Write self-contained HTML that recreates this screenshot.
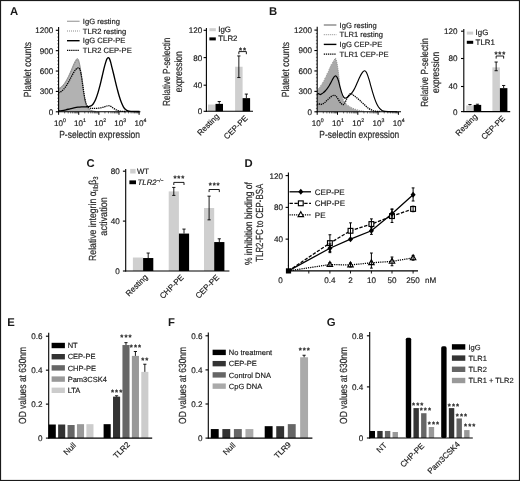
<!DOCTYPE html>
<html lang="en">
<head>
<meta charset="utf-8">
<title>Figure</title>
<style>
html,body{margin:0;padding:0;background:#fff}
svg{display:block}
text{font-family:"Liberation Sans", Arial, Helvetica, sans-serif;fill:#1a1a1a;stroke:#1a1a1a;stroke-width:.17px;text-rendering:geometricPrecision}
.t{stroke:#2a2a2a;stroke-width:.2px;fill:#2a2a2a}
.b{stroke:none}
</style>
</head>
<body>
<svg width="520" height="481" viewBox="0 0 520 481" style="filter:grayscale(1)">
<rect width="520" height="481" fill="#fff"/>
<text x="10" y="15.3" font-size="11.3" font-weight="bold" fill="#000" class="b">A</text>
<path d="M58.5 111.5L58.5 88.6L60.5 87.6L62.5 85.8L64.5 83.4L66.5 80.2L68.5 76.4L70.5 72L72.5 67.2L74 63.6L75.5 60.6L76.6 59L77.5 58.6L78.4 59.6L79.3 62.5L80.2 67.2L81.2 74L82.2 82L83.2 90L84.3 97.4L85.4 102.8L86.6 106.4L88 108.6L90 110L93 111L96 111.5Z" fill="#b2b2b2"/>
<path d="M58.5 88.6L60.5 87.6L62.5 85.8L64.5 83.4L66.5 80.2L68.5 76.4L70.5 72L72.5 67.2L74 63.6L75.5 60.6L76.6 59L77.5 58.6L78.4 59.6L79.3 62.5L80.2 67.2L81.2 74L82.2 82L83.2 90L84.3 97.4L85.4 102.8L86.6 106.4L88 108.6L90 110L93 111L96 111.5" fill="none" stroke="#9c9c9c" stroke-width="1"/>
<path d="M58.5 89.6L62.5 86.8L66.5 81.2L70.5 73L74 64.8L76.6 60.2L77.8 60L79.3 63.5L81.2 75L83.2 91L85.4 103.4L88 109L93 111.2" fill="none" stroke="#8a8a8a" stroke-width="1" stroke-dasharray="1 1"/>
<path d="M58.5 92.8C58.92 92.6 60.17 92.17 61 91.6C61.83 91.03 62.67 90.3 63.5 89.4C64.33 88.5 65.17 87.4 66 86.2C66.83 85 67.67 83.67 68.5 82.2C69.33 80.73 70.17 78.97 71 77.4C71.83 75.83 72.75 74.07 73.5 72.8C74.25 71.53 74.87 70.57 75.5 69.8C76.13 69.03 76.75 68.5 77.3 68.2C77.85 67.9 78.35 67.77 78.8 68C79.25 68.23 79.63 68.67 80 69.6C80.37 70.53 80.67 71.93 81 73.6C81.33 75.27 81.67 77.43 82 79.6C82.33 81.77 82.67 84.27 83 86.6C83.33 88.93 83.67 91.47 84 93.6C84.33 95.73 84.63 97.7 85 99.4C85.37 101.1 85.77 102.6 86.2 103.8C86.63 105 87.05 105.9 87.6 106.6C88.15 107.3 88.6 107.7 89.5 108C90.4 108.3 91.75 108.35 93 108.4C94.25 108.45 95.67 108.4 97 108.3C98.33 108.2 99.75 108.05 101 107.8C102.25 107.55 103.42 107.13 104.5 106.8C105.58 106.47 106.67 105.95 107.5 105.8C108.33 105.65 108.83 105.73 109.5 105.9C110.17 106.07 110.75 106.35 111.5 106.8C112.25 107.25 113.17 108.07 114 108.6C114.83 109.13 115.67 109.62 116.5 110C117.33 110.38 118.08 110.67 119 110.9C119.92 111.13 120.83 111.3 122 111.4C123.17 111.5 125.33 111.48 126 111.5" fill="none" stroke="#000" stroke-width="1.3" stroke-dasharray="1.3 0.8"/>
<path d="M58.5 111C59.08 110.93 60.75 110.8 62 110.6C63.25 110.4 64.67 110.1 66 109.8C67.33 109.5 68.67 109.12 70 108.8C71.33 108.48 72.67 108.17 74 107.9C75.33 107.63 76.67 107.37 78 107.2C79.33 107.03 80.67 106.97 82 106.9C83.33 106.83 84.75 106.88 86 106.8C87.25 106.72 88.5 106.67 89.5 106.4C90.5 106.13 91.25 105.83 92 105.2C92.75 104.57 93.33 103.73 94 102.6C94.67 101.47 95.33 100.07 96 98.4C96.67 96.73 97.33 94.77 98 92.6C98.67 90.43 99.33 88 100 85.4C100.67 82.8 101.33 79.83 102 77C102.67 74.17 103.4 70.8 104 68.4C104.6 66 105.1 64.2 105.6 62.6C106.1 61 106.57 59.63 107 58.8C107.43 57.97 107.8 57.63 108.2 57.6C108.6 57.57 109 57.87 109.4 58.6C109.8 59.33 110.17 60.5 110.6 62C111.03 63.5 111.5 65.6 112 67.6C112.5 69.6 113.03 71.67 113.6 74C114.17 76.33 114.77 79 115.4 81.6C116.03 84.2 116.73 87.07 117.4 89.6C118.07 92.13 118.73 94.63 119.4 96.8C120.07 98.97 120.73 100.93 121.4 102.6C122.07 104.27 122.7 105.63 123.4 106.8C124.1 107.97 124.83 108.9 125.6 109.6C126.37 110.3 127.1 110.7 128 111C128.9 111.3 129.08 111.32 131 111.4C132.92 111.48 138.08 111.48 139.5 111.5" fill="none" stroke="#000" stroke-width="1.35" stroke-linejoin="round"/>
<line x1="58.6" y1="26.9" x2="58.6" y2="112.3" stroke="#000" stroke-width="1.1"/>
<line x1="57.3" y1="33.7" x2="58.6" y2="33.7" stroke="#000" stroke-width="0.55"/>
<line x1="57.3" y1="37.09" x2="58.6" y2="37.09" stroke="#000" stroke-width="0.55"/>
<line x1="57.3" y1="40.49" x2="58.6" y2="40.49" stroke="#000" stroke-width="0.55"/>
<line x1="57.3" y1="43.88" x2="58.6" y2="43.88" stroke="#000" stroke-width="0.55"/>
<line x1="57.3" y1="47.28" x2="58.6" y2="47.28" stroke="#000" stroke-width="0.55"/>
<line x1="57.3" y1="54.07" x2="58.6" y2="54.07" stroke="#000" stroke-width="0.55"/>
<line x1="57.3" y1="57.47" x2="58.6" y2="57.47" stroke="#000" stroke-width="0.55"/>
<line x1="57.3" y1="60.86" x2="58.6" y2="60.86" stroke="#000" stroke-width="0.55"/>
<line x1="57.3" y1="64.26" x2="58.6" y2="64.26" stroke="#000" stroke-width="0.55"/>
<line x1="57.3" y1="67.65" x2="58.6" y2="67.65" stroke="#000" stroke-width="0.55"/>
<line x1="57.3" y1="74.45" x2="58.6" y2="74.45" stroke="#000" stroke-width="0.55"/>
<line x1="57.3" y1="77.84" x2="58.6" y2="77.84" stroke="#000" stroke-width="0.55"/>
<line x1="57.3" y1="81.24" x2="58.6" y2="81.24" stroke="#000" stroke-width="0.55"/>
<line x1="57.3" y1="84.63" x2="58.6" y2="84.63" stroke="#000" stroke-width="0.55"/>
<line x1="57.3" y1="88.03" x2="58.6" y2="88.03" stroke="#000" stroke-width="0.55"/>
<line x1="57.3" y1="94.82" x2="58.6" y2="94.82" stroke="#000" stroke-width="0.55"/>
<line x1="57.3" y1="98.22" x2="58.6" y2="98.22" stroke="#000" stroke-width="0.55"/>
<line x1="57.3" y1="101.61" x2="58.6" y2="101.61" stroke="#000" stroke-width="0.55"/>
<line x1="57.3" y1="105.01" x2="58.6" y2="105.01" stroke="#000" stroke-width="0.55"/>
<line x1="57.3" y1="108.4" x2="58.6" y2="108.4" stroke="#000" stroke-width="0.55"/>
<line x1="55.8" y1="30.3" x2="58.6" y2="30.3" stroke="#000" stroke-width="1.1"/>
<text x="53.3" y="33.22" font-size="8.1" text-anchor="end">1200</text>
<line x1="55.8" y1="50.67" x2="58.6" y2="50.67" stroke="#000" stroke-width="1.1"/>
<text x="53.3" y="53.59" font-size="8.1" text-anchor="end">900</text>
<line x1="55.8" y1="71.05" x2="58.6" y2="71.05" stroke="#000" stroke-width="1.1"/>
<text x="53.3" y="73.97" font-size="8.1" text-anchor="end">600</text>
<line x1="55.8" y1="91.42" x2="58.6" y2="91.42" stroke="#000" stroke-width="1.1"/>
<text x="53.3" y="94.34" font-size="8.1" text-anchor="end">300</text>
<line x1="55.8" y1="111.8" x2="58.6" y2="111.8" stroke="#000" stroke-width="1.1"/>
<text x="53.3" y="114.72" font-size="8.1" text-anchor="end">0</text>
<line x1="58.1" y1="111.8" x2="140.4" y2="111.8" stroke="#000" stroke-width="1.1"/>
<line x1="58.6" y1="111.8" x2="58.6" y2="114.8" stroke="#000" stroke-width="1"/>
<line x1="64.66" y1="111.8" x2="64.66" y2="113.4" stroke="#000" stroke-width="0.6"/>
<line x1="68.2" y1="111.8" x2="68.2" y2="113.4" stroke="#000" stroke-width="0.6"/>
<line x1="70.72" y1="111.8" x2="70.72" y2="113.4" stroke="#000" stroke-width="0.6"/>
<line x1="72.67" y1="111.8" x2="72.67" y2="113.4" stroke="#000" stroke-width="0.6"/>
<line x1="74.26" y1="111.8" x2="74.26" y2="113.4" stroke="#000" stroke-width="0.6"/>
<line x1="75.61" y1="111.8" x2="75.61" y2="113.4" stroke="#000" stroke-width="0.6"/>
<line x1="76.77" y1="111.8" x2="76.77" y2="113.4" stroke="#000" stroke-width="0.6"/>
<line x1="77.8" y1="111.8" x2="77.8" y2="113.4" stroke="#000" stroke-width="0.6"/>
<text x="59.9" y="125.8" font-size="8.1" text-anchor="middle">10<tspan dy="-3.4" font-size="5.2">0</tspan></text>
<line x1="78.72" y1="111.8" x2="78.72" y2="114.8" stroke="#000" stroke-width="1"/>
<line x1="84.78" y1="111.8" x2="84.78" y2="113.4" stroke="#000" stroke-width="0.6"/>
<line x1="88.33" y1="111.8" x2="88.33" y2="113.4" stroke="#000" stroke-width="0.6"/>
<line x1="90.84" y1="111.8" x2="90.84" y2="113.4" stroke="#000" stroke-width="0.6"/>
<line x1="92.79" y1="111.8" x2="92.79" y2="113.4" stroke="#000" stroke-width="0.6"/>
<line x1="94.39" y1="111.8" x2="94.39" y2="113.4" stroke="#000" stroke-width="0.6"/>
<line x1="95.73" y1="111.8" x2="95.73" y2="113.4" stroke="#000" stroke-width="0.6"/>
<line x1="96.9" y1="111.8" x2="96.9" y2="113.4" stroke="#000" stroke-width="0.6"/>
<line x1="97.93" y1="111.8" x2="97.93" y2="113.4" stroke="#000" stroke-width="0.6"/>
<text x="80.02" y="125.8" font-size="8.1" text-anchor="middle">10<tspan dy="-3.4" font-size="5.2">1</tspan></text>
<line x1="98.85" y1="111.8" x2="98.85" y2="114.8" stroke="#000" stroke-width="1"/>
<line x1="104.91" y1="111.8" x2="104.91" y2="113.4" stroke="#000" stroke-width="0.6"/>
<line x1="108.45" y1="111.8" x2="108.45" y2="113.4" stroke="#000" stroke-width="0.6"/>
<line x1="110.97" y1="111.8" x2="110.97" y2="113.4" stroke="#000" stroke-width="0.6"/>
<line x1="112.92" y1="111.8" x2="112.92" y2="113.4" stroke="#000" stroke-width="0.6"/>
<line x1="114.51" y1="111.8" x2="114.51" y2="113.4" stroke="#000" stroke-width="0.6"/>
<line x1="115.86" y1="111.8" x2="115.86" y2="113.4" stroke="#000" stroke-width="0.6"/>
<line x1="117.02" y1="111.8" x2="117.02" y2="113.4" stroke="#000" stroke-width="0.6"/>
<line x1="118.05" y1="111.8" x2="118.05" y2="113.4" stroke="#000" stroke-width="0.6"/>
<text x="100.15" y="125.8" font-size="8.1" text-anchor="middle">10<tspan dy="-3.4" font-size="5.2">2</tspan></text>
<line x1="118.97" y1="111.8" x2="118.97" y2="114.8" stroke="#000" stroke-width="1"/>
<line x1="125.03" y1="111.8" x2="125.03" y2="113.4" stroke="#000" stroke-width="0.6"/>
<line x1="128.58" y1="111.8" x2="128.58" y2="113.4" stroke="#000" stroke-width="0.6"/>
<line x1="131.09" y1="111.8" x2="131.09" y2="113.4" stroke="#000" stroke-width="0.6"/>
<line x1="133.04" y1="111.8" x2="133.04" y2="113.4" stroke="#000" stroke-width="0.6"/>
<line x1="134.64" y1="111.8" x2="134.64" y2="113.4" stroke="#000" stroke-width="0.6"/>
<line x1="135.98" y1="111.8" x2="135.98" y2="113.4" stroke="#000" stroke-width="0.6"/>
<line x1="137.15" y1="111.8" x2="137.15" y2="113.4" stroke="#000" stroke-width="0.6"/>
<line x1="138.18" y1="111.8" x2="138.18" y2="113.4" stroke="#000" stroke-width="0.6"/>
<text x="120.27" y="125.8" font-size="8.1" text-anchor="middle">10<tspan dy="-3.4" font-size="5.2">3</tspan></text>
<line x1="139.1" y1="111.8" x2="139.1" y2="114.8" stroke="#000" stroke-width="1"/>
<text x="140.4" y="125.8" font-size="8.1" text-anchor="middle">10<tspan dy="-3.4" font-size="5.2">4</tspan></text>
<line x1="67" y1="21.3" x2="79.6" y2="21.3" stroke="#a8a8a8" stroke-width="1.3"/>
<line x1="67" y1="31" x2="79.6" y2="31" stroke="#8a8a8a" stroke-width="1" stroke-dasharray="1 1"/>
<line x1="67" y1="40.7" x2="79.6" y2="40.7" stroke="#000" stroke-width="1.4"/>
<line x1="67" y1="50.4" x2="79.6" y2="50.4" stroke="#000" stroke-width="1.3" stroke-dasharray="1.3 0.8"/>
<text x="82.8" y="23.8" font-size="7.6">IgG resting</text>
<text x="82.8" y="33.5" font-size="7.6">TLR2 resting</text>
<text x="82.8" y="43.2" font-size="7.6">IgG CEP-PE</text>
<text x="82.8" y="52.9" font-size="7.6">TLR2 CEP-PE</text>
<text x="30.9" y="69.6" font-size="10.3" text-anchor="middle" transform="rotate(-90 30.9 69.6)" textLength="55.2" lengthAdjust="spacingAndGlyphs" class="t">Platelet counts</text>
<text x="99.6" y="138.2" font-size="10.3" text-anchor="middle" textLength="80.8" lengthAdjust="spacingAndGlyphs" class="t">P-selectin expression</text>
<text x="269" y="15.3" font-size="11.3" font-weight="bold" fill="#000" class="b">B</text>
<path d="M317.2 111.5L317.2 91.2L318.4 89L319.6 87.8L320.6 86L321.8 84.8L322.8 82.6L324 81L325 78.4L326.2 76.6L327.2 73.8L328.4 71.8L329.4 69L330.4 67L331.4 64.6L332.4 63.6L333.2 61.4L334.2 60.8L335 58.6L335.8 58.8L336.6 61.6L337.4 65.4L338.2 71L339 77.6L339.8 84.4L340.8 91L342 96.6L343.4 100.4L345 103L347 105L349.5 106.8L352.5 108.4L356 109.8L360 110.9L364 111.5Z" fill="#a9a9a9"/>
<path d="M317.2 90.9L318.4 88.7L319.6 87.5L320.6 85.7L321.8 84.5L322.8 82.3L324 80.7L325 78.1L326.2 76.3L327.2 73.5L328.4 71.5L329.4 68.7L330.4 66.7L331.4 64.3L332.4 63.3L333.2 61.1L334.2 60.5L335 58.3L335.8 58.5L336.6 61.3L337.4 65.1L338.2 70.7L339 77.3L339.8 84.1L340.8 90.7L342 96.3L343.4 100.1L345 102.7L347 104.7L349.5 106.5L352.5 108.1L356 109.5L360 110.6L364 111.2" fill="none" stroke="#8a8a8a" stroke-width="1" stroke-dasharray="1 1"/>
<path d="M317.2 104.6C317.43 104.43 318.07 103.6 318.6 103.6C319.13 103.6 319.77 104.53 320.4 104.6C321.03 104.67 321.73 104.3 322.4 104C323.07 103.7 323.7 103.33 324.4 102.8C325.1 102.27 325.83 101.53 326.6 100.8C327.37 100.07 328.2 99.13 329 98.4C329.8 97.67 330.67 96.9 331.4 96.4C332.13 95.9 332.77 95.53 333.4 95.4C334.03 95.27 334.6 95.27 335.2 95.6C335.8 95.93 336.37 96.57 337 97.4C337.63 98.23 338.33 99.6 339 100.6C339.67 101.6 340.33 102.73 341 103.4C341.67 104.07 342.4 104.6 343 104.6C343.6 104.6 344.07 104.17 344.6 103.4C345.13 102.63 345.67 101.13 346.2 100C346.73 98.87 347.27 97.53 347.8 96.6C348.33 95.67 348.9 94.9 349.4 94.4C349.9 93.9 350.3 93.6 350.8 93.6C351.3 93.6 351.8 94 352.4 94.4C353 94.8 353.63 95.4 354.4 96C355.17 96.6 356.07 97.23 357 98C357.93 98.77 359 99.7 360 100.6C361 101.5 362 102.47 363 103.4C364 104.33 365 105.33 366 106.2C367 107.07 368 107.93 369 108.6C370 109.27 370.92 109.77 372 110.2C373.08 110.63 374.17 110.98 375.5 111.2C376.83 111.42 379.25 111.45 380 111.5" fill="none" stroke="#000" stroke-width="1.3" stroke-dasharray="1.3 0.8"/>
<path d="M317.2 94.4C317.43 94.27 318.1 93.57 318.6 93.6C319.1 93.63 319.67 94.57 320.2 94.6C320.73 94.63 321.27 94.13 321.8 93.8C322.33 93.47 322.83 93.07 323.4 92.6C323.97 92.13 324.6 91.63 325.2 91C325.8 90.37 326.37 89.63 327 88.8C327.63 87.97 328.33 87.07 329 86C329.67 84.93 330.33 83.63 331 82.4C331.67 81.17 332.4 79.6 333 78.6C333.6 77.6 334.1 76.83 334.6 76.4C335.1 75.97 335.57 75.8 336 76C336.43 76.2 336.77 76.7 337.2 77.6C337.63 78.5 338.13 79.87 338.6 81.4C339.07 82.93 339.5 84.97 340 86.8C340.5 88.63 341.07 90.8 341.6 92.4C342.13 94 342.67 95.45 343.2 96.4C343.73 97.35 344.23 97.87 344.8 98.1C345.37 98.33 345.97 98.12 346.6 97.8C347.23 97.48 347.93 96.8 348.6 96.2C349.27 95.6 349.97 94.87 350.6 94.2C351.23 93.53 351.83 92.97 352.4 92.2C352.97 91.43 353.43 90.63 354 89.6C354.57 88.57 355.17 87.37 355.8 86C356.43 84.63 357.13 82.9 357.8 81.4C358.47 79.9 359.13 78.33 359.8 77C360.47 75.67 361.2 74.33 361.8 73.4C362.4 72.47 362.9 71.83 363.4 71.4C363.9 70.97 364.37 70.73 364.8 70.8C365.23 70.87 365.57 71.17 366 71.8C366.43 72.43 366.9 73.33 367.4 74.6C367.9 75.87 368.43 77.53 369 79.4C369.57 81.27 370.17 83.57 370.8 85.8C371.43 88.03 372.1 90.5 372.8 92.8C373.5 95.1 374.27 97.6 375 99.6C375.73 101.6 376.43 103.33 377.2 104.8C377.97 106.27 378.8 107.47 379.6 108.4C380.4 109.33 381.1 109.9 382 110.4C382.9 110.9 382.5 111.17 385 111.4C387.5 111.63 395 111.73 397 111.8" fill="none" stroke="#000" stroke-width="1.15" stroke-linejoin="round"/>
<line x1="317.2" y1="26.7" x2="317.2" y2="112.3" stroke="#000" stroke-width="1.1"/>
<line x1="315.9" y1="33.5" x2="317.2" y2="33.5" stroke="#000" stroke-width="0.55"/>
<line x1="315.9" y1="36.91" x2="317.2" y2="36.91" stroke="#000" stroke-width="0.55"/>
<line x1="315.9" y1="40.31" x2="317.2" y2="40.31" stroke="#000" stroke-width="0.55"/>
<line x1="315.9" y1="43.72" x2="317.2" y2="43.72" stroke="#000" stroke-width="0.55"/>
<line x1="315.9" y1="47.12" x2="317.2" y2="47.12" stroke="#000" stroke-width="0.55"/>
<line x1="315.9" y1="53.93" x2="317.2" y2="53.93" stroke="#000" stroke-width="0.55"/>
<line x1="315.9" y1="57.33" x2="317.2" y2="57.33" stroke="#000" stroke-width="0.55"/>
<line x1="315.9" y1="60.74" x2="317.2" y2="60.74" stroke="#000" stroke-width="0.55"/>
<line x1="315.9" y1="64.14" x2="317.2" y2="64.14" stroke="#000" stroke-width="0.55"/>
<line x1="315.9" y1="67.55" x2="317.2" y2="67.55" stroke="#000" stroke-width="0.55"/>
<line x1="315.9" y1="74.35" x2="317.2" y2="74.35" stroke="#000" stroke-width="0.55"/>
<line x1="315.9" y1="77.76" x2="317.2" y2="77.76" stroke="#000" stroke-width="0.55"/>
<line x1="315.9" y1="81.16" x2="317.2" y2="81.16" stroke="#000" stroke-width="0.55"/>
<line x1="315.9" y1="84.57" x2="317.2" y2="84.57" stroke="#000" stroke-width="0.55"/>
<line x1="315.9" y1="87.97" x2="317.2" y2="87.97" stroke="#000" stroke-width="0.55"/>
<line x1="315.9" y1="94.78" x2="317.2" y2="94.78" stroke="#000" stroke-width="0.55"/>
<line x1="315.9" y1="98.18" x2="317.2" y2="98.18" stroke="#000" stroke-width="0.55"/>
<line x1="315.9" y1="101.59" x2="317.2" y2="101.59" stroke="#000" stroke-width="0.55"/>
<line x1="315.9" y1="104.99" x2="317.2" y2="104.99" stroke="#000" stroke-width="0.55"/>
<line x1="315.9" y1="108.4" x2="317.2" y2="108.4" stroke="#000" stroke-width="0.55"/>
<line x1="314.4" y1="30.1" x2="317.2" y2="30.1" stroke="#000" stroke-width="1.1"/>
<text x="311.9" y="33.02" font-size="8.1" text-anchor="end">1200</text>
<line x1="314.4" y1="50.52" x2="317.2" y2="50.52" stroke="#000" stroke-width="1.1"/>
<text x="311.9" y="53.44" font-size="8.1" text-anchor="end">900</text>
<line x1="314.4" y1="70.95" x2="317.2" y2="70.95" stroke="#000" stroke-width="1.1"/>
<text x="311.9" y="73.87" font-size="8.1" text-anchor="end">600</text>
<line x1="314.4" y1="91.38" x2="317.2" y2="91.38" stroke="#000" stroke-width="1.1"/>
<text x="311.9" y="94.29" font-size="8.1" text-anchor="end">300</text>
<line x1="314.4" y1="111.8" x2="317.2" y2="111.8" stroke="#000" stroke-width="1.1"/>
<text x="311.9" y="114.72" font-size="8.1" text-anchor="end">0</text>
<line x1="316.7" y1="111.8" x2="401" y2="111.8" stroke="#000" stroke-width="1.1"/>
<line x1="317.2" y1="111.8" x2="317.2" y2="114.8" stroke="#000" stroke-width="1"/>
<line x1="323.31" y1="111.8" x2="323.31" y2="113.4" stroke="#000" stroke-width="0.6"/>
<line x1="326.89" y1="111.8" x2="326.89" y2="113.4" stroke="#000" stroke-width="0.6"/>
<line x1="329.42" y1="111.8" x2="329.42" y2="113.4" stroke="#000" stroke-width="0.6"/>
<line x1="331.39" y1="111.8" x2="331.39" y2="113.4" stroke="#000" stroke-width="0.6"/>
<line x1="333" y1="111.8" x2="333" y2="113.4" stroke="#000" stroke-width="0.6"/>
<line x1="334.36" y1="111.8" x2="334.36" y2="113.4" stroke="#000" stroke-width="0.6"/>
<line x1="335.53" y1="111.8" x2="335.53" y2="113.4" stroke="#000" stroke-width="0.6"/>
<line x1="336.57" y1="111.8" x2="336.57" y2="113.4" stroke="#000" stroke-width="0.6"/>
<text x="317.6" y="125.8" font-size="8.1" text-anchor="middle">10<tspan dy="-3.4" font-size="5.2">0</tspan></text>
<line x1="337.5" y1="111.8" x2="337.5" y2="114.8" stroke="#000" stroke-width="1"/>
<line x1="343.61" y1="111.8" x2="343.61" y2="113.4" stroke="#000" stroke-width="0.6"/>
<line x1="347.19" y1="111.8" x2="347.19" y2="113.4" stroke="#000" stroke-width="0.6"/>
<line x1="349.72" y1="111.8" x2="349.72" y2="113.4" stroke="#000" stroke-width="0.6"/>
<line x1="351.69" y1="111.8" x2="351.69" y2="113.4" stroke="#000" stroke-width="0.6"/>
<line x1="353.3" y1="111.8" x2="353.3" y2="113.4" stroke="#000" stroke-width="0.6"/>
<line x1="354.66" y1="111.8" x2="354.66" y2="113.4" stroke="#000" stroke-width="0.6"/>
<line x1="355.83" y1="111.8" x2="355.83" y2="113.4" stroke="#000" stroke-width="0.6"/>
<line x1="356.87" y1="111.8" x2="356.87" y2="113.4" stroke="#000" stroke-width="0.6"/>
<text x="337.9" y="125.8" font-size="8.1" text-anchor="middle">10<tspan dy="-3.4" font-size="5.2">1</tspan></text>
<line x1="357.8" y1="111.8" x2="357.8" y2="114.8" stroke="#000" stroke-width="1"/>
<line x1="363.91" y1="111.8" x2="363.91" y2="113.4" stroke="#000" stroke-width="0.6"/>
<line x1="367.49" y1="111.8" x2="367.49" y2="113.4" stroke="#000" stroke-width="0.6"/>
<line x1="370.02" y1="111.8" x2="370.02" y2="113.4" stroke="#000" stroke-width="0.6"/>
<line x1="371.99" y1="111.8" x2="371.99" y2="113.4" stroke="#000" stroke-width="0.6"/>
<line x1="373.6" y1="111.8" x2="373.6" y2="113.4" stroke="#000" stroke-width="0.6"/>
<line x1="374.96" y1="111.8" x2="374.96" y2="113.4" stroke="#000" stroke-width="0.6"/>
<line x1="376.13" y1="111.8" x2="376.13" y2="113.4" stroke="#000" stroke-width="0.6"/>
<line x1="377.17" y1="111.8" x2="377.17" y2="113.4" stroke="#000" stroke-width="0.6"/>
<text x="358.2" y="125.8" font-size="8.1" text-anchor="middle">10<tspan dy="-3.4" font-size="5.2">2</tspan></text>
<line x1="378.1" y1="111.8" x2="378.1" y2="114.8" stroke="#000" stroke-width="1"/>
<line x1="384.21" y1="111.8" x2="384.21" y2="113.4" stroke="#000" stroke-width="0.6"/>
<line x1="387.79" y1="111.8" x2="387.79" y2="113.4" stroke="#000" stroke-width="0.6"/>
<line x1="390.32" y1="111.8" x2="390.32" y2="113.4" stroke="#000" stroke-width="0.6"/>
<line x1="392.29" y1="111.8" x2="392.29" y2="113.4" stroke="#000" stroke-width="0.6"/>
<line x1="393.9" y1="111.8" x2="393.9" y2="113.4" stroke="#000" stroke-width="0.6"/>
<line x1="395.26" y1="111.8" x2="395.26" y2="113.4" stroke="#000" stroke-width="0.6"/>
<line x1="396.43" y1="111.8" x2="396.43" y2="113.4" stroke="#000" stroke-width="0.6"/>
<line x1="397.47" y1="111.8" x2="397.47" y2="113.4" stroke="#000" stroke-width="0.6"/>
<text x="378.5" y="125.8" font-size="8.1" text-anchor="middle">10<tspan dy="-3.4" font-size="5.2">3</tspan></text>
<line x1="398.4" y1="111.8" x2="398.4" y2="114.8" stroke="#000" stroke-width="1"/>
<text x="398.8" y="125.8" font-size="8.1" text-anchor="middle">10<tspan dy="-3.4" font-size="5.2">4</tspan></text>
<line x1="323.8" y1="25" x2="336.4" y2="25" stroke="#a8a8a8" stroke-width="1.9"/>
<line x1="323.8" y1="34.7" x2="336.4" y2="34.7" stroke="#8a8a8a" stroke-width="1" stroke-dasharray="1 1"/>
<line x1="323.8" y1="44.4" x2="336.4" y2="44.4" stroke="#000" stroke-width="1.4"/>
<line x1="323.8" y1="54.1" x2="336.4" y2="54.1" stroke="#000" stroke-width="1.3" stroke-dasharray="1.3 0.8"/>
<text x="339.6" y="27.5" font-size="7.6">IgG resting</text>
<text x="339.6" y="37.2" font-size="7.6">TLR1 resting</text>
<text x="339.6" y="46.9" font-size="7.6">IgG CEP-PE</text>
<text x="339.6" y="56.6" font-size="7.6">TLR1 CEP-PE</text>
<text x="288.6" y="69.6" font-size="10.3" text-anchor="middle" transform="rotate(-90 288.6 69.6)" textLength="55.2" lengthAdjust="spacingAndGlyphs" class="t">Platelet counts</text>
<text x="359.3" y="138.2" font-size="10.3" text-anchor="middle" textLength="80" lengthAdjust="spacingAndGlyphs" class="t">P-selectin expression</text>
<rect x="208" y="104.55" width="7.5" height="6.75" fill="#cfcfcf"/>
<rect x="215.5" y="103.88" width="7.5" height="7.42" fill="#000"/>
<rect x="235.1" y="66.75" width="7.5" height="44.55" fill="#cfcfcf"/>
<rect x="242.6" y="98.14" width="7.5" height="13.16" fill="#000"/>
<line x1="219.25" y1="101.51" x2="219.25" y2="103.88" stroke="#000" stroke-width="0.9"/>
<line x1="217.65" y1="101.51" x2="220.85" y2="101.51" stroke="#000" stroke-width="0.9"/>
<line x1="238.85" y1="55.95" x2="238.85" y2="77.55" stroke="#000" stroke-width="0.9"/>
<line x1="237.25" y1="55.95" x2="240.45" y2="55.95" stroke="#000" stroke-width="0.9"/>
<line x1="237.25" y1="77.55" x2="240.45" y2="77.55" stroke="#000" stroke-width="0.9"/>
<line x1="246.35" y1="94.09" x2="246.35" y2="98.14" stroke="#000" stroke-width="0.9"/>
<line x1="244.75" y1="94.09" x2="247.95" y2="94.09" stroke="#000" stroke-width="0.9"/>
<line x1="206.4" y1="28" x2="206.4" y2="111.8" stroke="#000" stroke-width="1.1"/>
<line x1="203.6" y1="30.3" x2="206.4" y2="30.3" stroke="#000" stroke-width="1.1"/>
<text x="202.2" y="33.22" font-size="8.1" text-anchor="end">120</text>
<line x1="203.6" y1="57.6" x2="206.4" y2="57.6" stroke="#000" stroke-width="1.1"/>
<text x="202.2" y="60.52" font-size="8.1" text-anchor="end">80</text>
<line x1="203.6" y1="85.2" x2="206.4" y2="85.2" stroke="#000" stroke-width="1.1"/>
<text x="202.2" y="88.12" font-size="8.1" text-anchor="end">40</text>
<line x1="203.6" y1="111.3" x2="206.4" y2="111.3" stroke="#000" stroke-width="1.1"/>
<text x="202.2" y="114.22" font-size="8.1" text-anchor="end">0</text>
<line x1="205.9" y1="111.3" x2="253" y2="111.3" stroke="#000" stroke-width="1.1"/>
<path d="M238.85 54.2L238.85 51.6L246.35 51.6L246.35 54.2" fill="none" stroke="#000" stroke-width="0.9"/>
<text x="243.05" y="52.6" font-size="7.8" text-anchor="middle" font-weight="bold" letter-spacing="0.9" fill="#000">**</text>
<rect x="209.4" y="28.2" width="6.4" height="3" fill="#cfcfcf"/>
<rect x="209.4" y="37.4" width="6.4" height="3" fill="#000"/>
<text x="218.2" y="32" font-size="7.9">IgG</text>
<text x="218.2" y="41.2" font-size="7.9">TLR2</text>
<text x="219.7" y="116.9" font-size="8" text-anchor="end" transform="rotate(-45 219.7 116.9)">Resting</text>
<text x="248.2" y="118.7" font-size="8" text-anchor="end" transform="rotate(-45 248.2 118.7)">CEP-PE</text>
<text x="170.4" y="71.8" font-size="10.3" text-anchor="middle" transform="rotate(-90 170.4 71.8)" textLength="68.5" lengthAdjust="spacingAndGlyphs" class="t">Relative P-selectin</text>
<text x="182" y="71.8" font-size="10.3" text-anchor="middle" transform="rotate(-90 182 71.8)" textLength="41" lengthAdjust="spacingAndGlyphs" class="t">expression</text>
<rect x="466.2" y="105.44" width="7.5" height="6.16" fill="#cfcfcf"/>
<rect x="473.7" y="104.9" width="7.5" height="6.7" fill="#000"/>
<rect x="492.4" y="67.38" width="7.5" height="44.22" fill="#cfcfcf"/>
<rect x="499.9" y="88.15" width="7.5" height="23.45" fill="#000"/>
<line x1="469.95" y1="104.5" x2="469.95" y2="105.44" stroke="#000" stroke-width="0.9"/>
<line x1="468.35" y1="104.5" x2="471.55" y2="104.5" stroke="#000" stroke-width="0.9"/>
<line x1="477.45" y1="104.23" x2="477.45" y2="104.9" stroke="#000" stroke-width="0.9"/>
<line x1="475.85" y1="104.23" x2="479.05" y2="104.23" stroke="#000" stroke-width="0.9"/>
<line x1="496.15" y1="62.02" x2="496.15" y2="70.73" stroke="#000" stroke-width="0.9"/>
<line x1="494.55" y1="62.02" x2="497.75" y2="62.02" stroke="#000" stroke-width="0.9"/>
<line x1="494.55" y1="70.73" x2="497.75" y2="70.73" stroke="#000" stroke-width="0.9"/>
<line x1="503.65" y1="85.47" x2="503.65" y2="88.15" stroke="#000" stroke-width="0.9"/>
<line x1="502.05" y1="85.47" x2="505.25" y2="85.47" stroke="#000" stroke-width="0.9"/>
<line x1="463.8" y1="28.9" x2="463.8" y2="112.1" stroke="#000" stroke-width="1.1"/>
<line x1="461" y1="31.2" x2="463.8" y2="31.2" stroke="#000" stroke-width="1.1"/>
<text x="457.4" y="34.12" font-size="8.1" text-anchor="end">120</text>
<line x1="461" y1="58.5" x2="463.8" y2="58.5" stroke="#000" stroke-width="1.1"/>
<text x="457.4" y="61.42" font-size="8.1" text-anchor="end">80</text>
<line x1="461" y1="86.5" x2="463.8" y2="86.5" stroke="#000" stroke-width="1.1"/>
<text x="457.4" y="89.42" font-size="8.1" text-anchor="end">40</text>
<line x1="461" y1="111.6" x2="463.8" y2="111.6" stroke="#000" stroke-width="1.1"/>
<text x="457.4" y="114.52" font-size="8.1" text-anchor="end">0</text>
<line x1="463.3" y1="111.6" x2="510.2" y2="111.6" stroke="#000" stroke-width="1.1"/>
<path d="M496.15 58.6L496.15 56L503.65 56L503.65 58.6" fill="none" stroke="#000" stroke-width="0.9"/>
<text x="500.35" y="57" font-size="7.8" text-anchor="middle" font-weight="bold" letter-spacing="0.9" fill="#000">***</text>
<rect x="466.8" y="31.6" width="6.4" height="3" fill="#cfcfcf"/>
<rect x="466.8" y="40.8" width="6.4" height="3" fill="#000"/>
<text x="475.6" y="35.4" font-size="7.9">IgG</text>
<text x="475.6" y="44.6" font-size="7.9">TLR1</text>
<text x="477.9" y="117.2" font-size="8" text-anchor="end" transform="rotate(-45 477.9 117.2)">Resting</text>
<text x="505.5" y="119" font-size="8" text-anchor="end" transform="rotate(-45 505.5 119)">CEP-PE</text>
<text x="428.2" y="72.4" font-size="10.3" text-anchor="middle" transform="rotate(-90 428.2 72.4)" textLength="68.5" lengthAdjust="spacingAndGlyphs" class="t">Relative P-selectin</text>
<text x="439" y="72.4" font-size="10.3" text-anchor="middle" transform="rotate(-90 439 72.4)" textLength="41" lengthAdjust="spacingAndGlyphs" class="t">expression</text>
<text x="86.4" y="166.7" font-size="11.3" font-weight="bold" fill="#000" class="b">C</text>
<rect x="132.9" y="257.53" width="10.2" height="13.47" fill="#cfcfcf"/>
<rect x="143.1" y="258.03" width="10.2" height="12.97" fill="#000"/>
<rect x="168.7" y="191.41" width="10.2" height="79.59" fill="#cfcfcf"/>
<rect x="178.9" y="233.57" width="10.2" height="37.43" fill="#000"/>
<rect x="204" y="208" width="10.2" height="63" fill="#cfcfcf"/>
<rect x="214.2" y="242.06" width="10.2" height="28.94" fill="#000"/>
<line x1="148.2" y1="253.04" x2="148.2" y2="258.03" stroke="#000" stroke-width="0.9"/>
<line x1="146.6" y1="253.04" x2="149.8" y2="253.04" stroke="#000" stroke-width="0.9"/>
<line x1="173.8" y1="187.42" x2="173.8" y2="195.4" stroke="#000" stroke-width="0.9"/>
<line x1="172.2" y1="187.42" x2="175.4" y2="187.42" stroke="#000" stroke-width="0.9"/>
<line x1="172.2" y1="195.4" x2="175.4" y2="195.4" stroke="#000" stroke-width="0.9"/>
<line x1="184" y1="229.08" x2="184" y2="233.57" stroke="#000" stroke-width="0.9"/>
<line x1="182.4" y1="229.08" x2="185.6" y2="229.08" stroke="#000" stroke-width="0.9"/>
<line x1="209.1" y1="196.15" x2="209.1" y2="219.85" stroke="#000" stroke-width="0.9"/>
<line x1="207.5" y1="196.15" x2="210.7" y2="196.15" stroke="#000" stroke-width="0.9"/>
<line x1="207.5" y1="219.85" x2="210.7" y2="219.85" stroke="#000" stroke-width="0.9"/>
<line x1="219.3" y1="238.81" x2="219.3" y2="242.06" stroke="#000" stroke-width="0.9"/>
<line x1="217.7" y1="238.81" x2="220.9" y2="238.81" stroke="#000" stroke-width="0.9"/>
<line x1="125.7" y1="168.9" x2="125.7" y2="271.5" stroke="#000" stroke-width="1.1"/>
<line x1="122.9" y1="171.2" x2="125.7" y2="171.2" stroke="#000" stroke-width="1.1"/>
<text x="119.8" y="174.12" font-size="8.1" text-anchor="end">80</text>
<line x1="122.9" y1="221.1" x2="125.7" y2="221.1" stroke="#000" stroke-width="1.1"/>
<text x="119.8" y="224.02" font-size="8.1" text-anchor="end">40</text>
<line x1="122.9" y1="271" x2="125.7" y2="271" stroke="#000" stroke-width="1.1"/>
<text x="119.8" y="273.92" font-size="8.1" text-anchor="end">0</text>
<line x1="125.2" y1="271" x2="229.4" y2="271" stroke="#000" stroke-width="1.1"/>
<path d="M173.8 185L173.8 182.4L184 182.4L184 185" fill="none" stroke="#000" stroke-width="0.9"/>
<text x="179.35" y="181" font-size="7.8" text-anchor="middle" font-weight="bold" letter-spacing="0.9" fill="#000">***</text>
<path d="M209.1 192.1L209.1 189.5L219.3 189.5L219.3 192.1" fill="none" stroke="#000" stroke-width="0.9"/>
<text x="214.65" y="188.2" font-size="7.8" text-anchor="middle" font-weight="bold" letter-spacing="0.9" fill="#000">***</text>
<rect x="130.2" y="168.9" width="5.4" height="4.6" fill="#cfcfcf"/>
<rect x="129.4" y="180.4" width="6.6" height="3.8" fill="#000"/>
<text x="137" y="173.8" font-size="7.8">WT</text>
<text x="137.6" y="185" font-size="7.8" font-style="italic">TLR2<tspan dy="-2.6" font-size="4.6">−/−</tspan></text>
<text x="148.2" y="277.6" font-size="8" text-anchor="end" transform="rotate(-45 148.2 277.6)">Resting</text>
<text x="184.4" y="277.9" font-size="8" text-anchor="end" transform="rotate(-45 184.4 277.9)">CHP-PE</text>
<text x="219.8" y="277.9" font-size="8" text-anchor="end" transform="rotate(-45 219.8 277.9)">CEP-PE</text>
<text x="95.6" y="218.7" font-size="10.3" text-anchor="middle" transform="rotate(-90 95.6 218.7)" textLength="84.5" lengthAdjust="spacingAndGlyphs" class="t">Relative integrin α<tspan dy="2" font-size="7">IIb</tspan><tspan dy="-2">β</tspan><tspan dy="2" font-size="7">3</tspan></text>
<text x="106.9" y="216.4" font-size="10.3" text-anchor="middle" transform="rotate(-90 106.9 216.4)" textLength="38.5" lengthAdjust="spacingAndGlyphs" class="t">activation</text>
<text x="244.6" y="167" font-size="11.3" font-weight="bold" fill="#000" class="b">D</text>
<line x1="288.4" y1="172.6" x2="288.4" y2="265.4" stroke="#000" stroke-width="1.1"/>
<line x1="285.6" y1="175.6" x2="288.4" y2="175.6" stroke="#000" stroke-width="1.1"/>
<text x="283.1" y="178.52" font-size="8.1" text-anchor="end">120</text>
<line x1="285.6" y1="207.37" x2="288.4" y2="207.37" stroke="#000" stroke-width="1.1"/>
<text x="283.1" y="210.28" font-size="8.1" text-anchor="end">80</text>
<line x1="285.6" y1="239.13" x2="288.4" y2="239.13" stroke="#000" stroke-width="1.1"/>
<text x="283.1" y="242.05" font-size="8.1" text-anchor="end">40</text>
<line x1="288.4" y1="264.9" x2="288.4" y2="271.4" stroke="#000" stroke-width="1.1"/>
<line x1="287.9" y1="270.9" x2="418" y2="270.9" stroke="#000" stroke-width="1.1"/>
<line x1="308.8" y1="270.9" x2="308.8" y2="273.5" stroke="#000" stroke-width="0.9"/>
<line x1="329.9" y1="270.9" x2="329.9" y2="273.5" stroke="#000" stroke-width="0.9"/>
<line x1="350.5" y1="270.9" x2="350.5" y2="273.5" stroke="#000" stroke-width="0.9"/>
<line x1="371.4" y1="270.9" x2="371.4" y2="273.5" stroke="#000" stroke-width="0.9"/>
<line x1="392" y1="270.9" x2="392" y2="273.5" stroke="#000" stroke-width="0.9"/>
<line x1="413.1" y1="270.9" x2="413.1" y2="273.5" stroke="#000" stroke-width="0.9"/>
<path d="M288.4 270.9L329.9 264.55L350.5 264.94L371.4 262.8L392 261.37L413.1 257.88" fill="none" stroke="#000" stroke-width="1.3" stroke-dasharray="1.2 1"/>
<path d="M288.4 270.9L329.9 243.1L350.5 230.79L371.4 224.04L392 216.1L413.1 208.95" fill="none" stroke="#000" stroke-width="1.3" stroke-dasharray="3.4 1.5"/>
<path d="M288.4 270.9L329.9 248.27L350.5 239.13L371.4 230.79L392 213.72L413.1 194.66" fill="none" stroke="#000" stroke-width="1.3"/>
<path d="M329.9 261.55L332.6 266.41L327.2 266.41Z" fill="#fff" stroke="#000" stroke-width="1.15"/>
<path d="M350.5 261.94L353.2 266.8L347.8 266.8Z" fill="#fff" stroke="#000" stroke-width="1.15"/>
<path d="M371.4 259.8L374.1 264.66L368.7 264.66Z" fill="#fff" stroke="#000" stroke-width="1.15"/>
<path d="M392 258.37L394.7 263.23L389.3 263.23Z" fill="#fff" stroke="#000" stroke-width="1.15"/>
<path d="M413.1 254.88L415.8 259.74L410.4 259.74Z" fill="#fff" stroke="#000" stroke-width="1.15"/>
<rect x="327.5" y="240.7" width="4.8" height="4.8" fill="#fff" stroke="#000" stroke-width="1.15"/>
<rect x="348.1" y="228.39" width="4.8" height="4.8" fill="#fff" stroke="#000" stroke-width="1.15"/>
<rect x="369" y="221.64" width="4.8" height="4.8" fill="#fff" stroke="#000" stroke-width="1.15"/>
<rect x="389.6" y="213.7" width="4.8" height="4.8" fill="#fff" stroke="#000" stroke-width="1.15"/>
<rect x="410.7" y="206.55" width="4.8" height="4.8" fill="#fff" stroke="#000" stroke-width="1.15"/>
<path d="M329.9 245.27L332.45 248.27L329.9 251.27L327.35 248.27Z" fill="#000"/>
<path d="M350.5 236.13L353.05 239.13L350.5 242.13L347.95 239.13Z" fill="#000"/>
<path d="M371.4 227.79L373.95 230.79L371.4 233.79L368.85 230.79Z" fill="#000"/>
<path d="M392 210.72L394.55 213.72L392 216.72L389.45 213.72Z" fill="#000"/>
<path d="M413.1 191.66L415.65 194.66L413.1 197.66L410.55 194.66Z" fill="#000"/>
<line x1="329.9" y1="243.9" x2="329.9" y2="252.63" stroke="#000" stroke-width="1"/>
<line x1="328.5" y1="243.9" x2="331.3" y2="243.9" stroke="#000" stroke-width="1"/>
<line x1="328.5" y1="252.63" x2="331.3" y2="252.63" stroke="#000" stroke-width="1"/>
<line x1="371.4" y1="227.22" x2="371.4" y2="234.37" stroke="#000" stroke-width="1"/>
<line x1="370" y1="227.22" x2="372.8" y2="227.22" stroke="#000" stroke-width="1"/>
<line x1="370" y1="234.37" x2="372.8" y2="234.37" stroke="#000" stroke-width="1"/>
<line x1="392" y1="208.95" x2="392" y2="218.48" stroke="#000" stroke-width="1"/>
<line x1="390.6" y1="208.95" x2="393.4" y2="208.95" stroke="#000" stroke-width="1"/>
<line x1="390.6" y1="218.48" x2="393.4" y2="218.48" stroke="#000" stroke-width="1"/>
<line x1="413.1" y1="187.91" x2="413.1" y2="201.01" stroke="#000" stroke-width="1"/>
<line x1="411.7" y1="187.91" x2="414.5" y2="187.91" stroke="#000" stroke-width="1"/>
<line x1="411.7" y1="201.01" x2="414.5" y2="201.01" stroke="#000" stroke-width="1"/>
<line x1="329.9" y1="234.77" x2="329.9" y2="251.44" stroke="#000" stroke-width="1"/>
<line x1="328.5" y1="234.77" x2="331.3" y2="234.77" stroke="#000" stroke-width="1"/>
<line x1="328.5" y1="251.44" x2="331.3" y2="251.44" stroke="#000" stroke-width="1"/>
<line x1="350.5" y1="222.85" x2="350.5" y2="238.74" stroke="#000" stroke-width="1"/>
<line x1="349.1" y1="222.85" x2="351.9" y2="222.85" stroke="#000" stroke-width="1"/>
<line x1="349.1" y1="238.74" x2="351.9" y2="238.74" stroke="#000" stroke-width="1"/>
<line x1="371.4" y1="218.88" x2="371.4" y2="229.21" stroke="#000" stroke-width="1"/>
<line x1="370" y1="218.88" x2="372.8" y2="218.88" stroke="#000" stroke-width="1"/>
<line x1="370" y1="229.21" x2="372.8" y2="229.21" stroke="#000" stroke-width="1"/>
<line x1="392" y1="209.35" x2="392" y2="222.46" stroke="#000" stroke-width="1"/>
<line x1="390.6" y1="209.35" x2="393.4" y2="209.35" stroke="#000" stroke-width="1"/>
<line x1="390.6" y1="222.46" x2="393.4" y2="222.46" stroke="#000" stroke-width="1"/>
<line x1="413.1" y1="206.18" x2="413.1" y2="211.73" stroke="#000" stroke-width="1"/>
<line x1="411.7" y1="206.18" x2="414.5" y2="206.18" stroke="#000" stroke-width="1"/>
<line x1="411.7" y1="211.73" x2="414.5" y2="211.73" stroke="#000" stroke-width="1"/>
<line x1="329.9" y1="262.56" x2="329.9" y2="266.53" stroke="#000" stroke-width="1"/>
<line x1="328.5" y1="262.56" x2="331.3" y2="262.56" stroke="#000" stroke-width="1"/>
<line x1="328.5" y1="266.53" x2="331.3" y2="266.53" stroke="#000" stroke-width="1"/>
<line x1="350.5" y1="262.96" x2="350.5" y2="266.93" stroke="#000" stroke-width="1"/>
<line x1="349.1" y1="262.96" x2="351.9" y2="262.96" stroke="#000" stroke-width="1"/>
<line x1="349.1" y1="266.93" x2="351.9" y2="266.93" stroke="#000" stroke-width="1"/>
<line x1="371.4" y1="253.03" x2="371.4" y2="268.12" stroke="#000" stroke-width="1"/>
<line x1="370" y1="253.03" x2="372.8" y2="253.03" stroke="#000" stroke-width="1"/>
<line x1="370" y1="268.12" x2="372.8" y2="268.12" stroke="#000" stroke-width="1"/>
<line x1="392" y1="257" x2="392" y2="265.74" stroke="#000" stroke-width="1"/>
<line x1="390.6" y1="257" x2="393.4" y2="257" stroke="#000" stroke-width="1"/>
<line x1="390.6" y1="265.74" x2="393.4" y2="265.74" stroke="#000" stroke-width="1"/>
<line x1="413.1" y1="255.41" x2="413.1" y2="260.18" stroke="#000" stroke-width="1"/>
<line x1="411.7" y1="255.41" x2="414.5" y2="255.41" stroke="#000" stroke-width="1"/>
<line x1="411.7" y1="260.18" x2="414.5" y2="260.18" stroke="#000" stroke-width="1"/>
<rect x="285.9" y="268.3" width="5.2" height="5.2" fill="#000"/>
<line x1="289.5" y1="191.8" x2="311" y2="191.8" stroke="#000" stroke-width="1.3"/>
<path d="M300.8 188.8L303.35 191.8L300.8 194.8L298.25 191.8Z" fill="#000"/>
<line x1="289.5" y1="203.3" x2="311" y2="203.3" stroke="#000" stroke-width="1.3" stroke-dasharray="3.4 1.5"/>
<rect x="298.4" y="200.9" width="4.8" height="4.8" fill="#fff" stroke="#000" stroke-width="1.15"/>
<line x1="289.5" y1="214.8" x2="311" y2="214.8" stroke="#000" stroke-width="1.3" stroke-dasharray="1.2 1"/>
<path d="M300.8 211.7L303.5 216.56L298.1 216.56Z" fill="#fff" stroke="#000" stroke-width="1.15"/>
<text x="314.8" y="194.8" font-size="8">CEP-PE</text>
<text x="314.8" y="206.3" font-size="8">CHP-PE</text>
<text x="314.8" y="217.8" font-size="8">PE</text>
<text x="280.6" y="283.4" font-size="8.1" text-anchor="middle">0</text>
<text x="329.9" y="283.4" font-size="8.1" text-anchor="middle">0.4</text>
<text x="350.5" y="283.4" font-size="8.1" text-anchor="middle">2</text>
<text x="371.4" y="283.4" font-size="8.1" text-anchor="middle">10</text>
<text x="392" y="283.4" font-size="8.1" text-anchor="middle">50</text>
<text x="413.1" y="283.4" font-size="8.1" text-anchor="middle">250</text>
<text x="430.6" y="283.4" font-size="8.1" text-anchor="middle">nM</text>
<text x="252" y="223.6" font-size="10.3" text-anchor="middle" transform="rotate(-90 252 223.6)" textLength="83" lengthAdjust="spacingAndGlyphs" class="t">% inhibition binding of</text>
<text x="263.4" y="222.8" font-size="10.3" text-anchor="middle" transform="rotate(-90 263.4 222.8)" textLength="78" lengthAdjust="spacingAndGlyphs" class="t">TLR2-FC to CEP-BSA</text>
<text x="7.3" y="325.6" font-size="11.3" font-weight="bold" fill="#000" class="b">E</text>
<rect x="48.7" y="424.51" width="7.1" height="13.59" fill="#000"/>
<rect x="58.12" y="424.51" width="7.1" height="13.59" fill="#333"/>
<rect x="67.54" y="425.02" width="7.1" height="13.08" fill="#666"/>
<rect x="76.96" y="424.17" width="7.1" height="13.93" fill="#999"/>
<rect x="86.38" y="424.17" width="7.1" height="13.93" fill="#ccc"/>
<rect x="103.6" y="424.17" width="7.1" height="13.93" fill="#000"/>
<rect x="113.02" y="396.66" width="7.1" height="41.44" fill="#333"/>
<rect x="122.44" y="345.03" width="7.1" height="93.07" fill="#666"/>
<rect x="131.86" y="355.9" width="7.1" height="82.2" fill="#999"/>
<rect x="141.28" y="371.87" width="7.1" height="66.24" fill="#ccc"/>
<line x1="116.57" y1="395.81" x2="116.57" y2="396.66" stroke="#000" stroke-width="0.9"/>
<line x1="114.97" y1="395.81" x2="118.17" y2="395.81" stroke="#000" stroke-width="0.9"/>
<line x1="125.99" y1="342.65" x2="125.99" y2="345.03" stroke="#000" stroke-width="0.9"/>
<line x1="124.39" y1="342.65" x2="127.59" y2="342.65" stroke="#000" stroke-width="0.9"/>
<line x1="135.41" y1="351.49" x2="135.41" y2="355.9" stroke="#000" stroke-width="0.9"/>
<line x1="133.81" y1="351.49" x2="137.01" y2="351.49" stroke="#000" stroke-width="0.9"/>
<line x1="144.83" y1="364.22" x2="144.83" y2="371.87" stroke="#000" stroke-width="0.9"/>
<line x1="143.23" y1="364.22" x2="146.43" y2="364.22" stroke="#000" stroke-width="0.9"/>
<line x1="48.7" y1="332.8" x2="48.7" y2="438.6" stroke="#000" stroke-width="1.1"/>
<line x1="45.9" y1="336.2" x2="48.7" y2="336.2" stroke="#000" stroke-width="1.1"/>
<text x="42.6" y="339.12" font-size="8.1" text-anchor="end">0.6</text>
<line x1="45.9" y1="370.17" x2="48.7" y2="370.17" stroke="#000" stroke-width="1.1"/>
<text x="42.6" y="373.08" font-size="8.1" text-anchor="end">0.4</text>
<line x1="45.9" y1="404.13" x2="48.7" y2="404.13" stroke="#000" stroke-width="1.1"/>
<text x="42.6" y="407.05" font-size="8.1" text-anchor="end">0.2</text>
<line x1="45.9" y1="438.1" x2="48.7" y2="438.1" stroke="#000" stroke-width="1.1"/>
<text x="42.6" y="441.02" font-size="8.1" text-anchor="end">0</text>
<line x1="48.2" y1="438.1" x2="152.2" y2="438.1" stroke="#000" stroke-width="1.1"/>
<text x="117.12" y="395" font-size="7.8" text-anchor="middle" font-weight="bold" letter-spacing="1.1" fill="#000">***</text>
<text x="126.54" y="340.2" font-size="7.8" text-anchor="middle" font-weight="bold" letter-spacing="1.1" fill="#000">***</text>
<text x="135.96" y="350" font-size="7.8" text-anchor="middle" font-weight="bold" letter-spacing="1.1" fill="#000">***</text>
<text x="145.28" y="363.2" font-size="7.8" text-anchor="middle" font-weight="bold" letter-spacing="0.9" fill="#000">**</text>
<rect x="51.6" y="342.8" width="13.3" height="5.4" fill="#000"/>
<text x="67.7" y="348.2" font-size="7.5">NT</text>
<rect x="51.6" y="354" width="13.3" height="5.4" fill="#333"/>
<text x="67.7" y="359.4" font-size="7.5">CEP-PE</text>
<rect x="51.6" y="365.2" width="13.3" height="5.4" fill="#666"/>
<text x="67.7" y="370.6" font-size="7.5">CHP-PE</text>
<rect x="51.6" y="376.4" width="13.3" height="5.4" fill="#999"/>
<text x="67.7" y="381.8" font-size="7.5">Pam3CSK4</text>
<rect x="51.6" y="387.6" width="13.3" height="5.4" fill="#ccc"/>
<text x="67.7" y="393" font-size="7.5">LTA</text>
<text x="76.6" y="445.8" font-size="8" text-anchor="end" transform="rotate(-45 76.6 445.8)">Null</text>
<text x="130.4" y="445.2" font-size="8" text-anchor="end" transform="rotate(-45 130.4 445.2)">TLR2</text>
<text x="26.2" y="385.4" font-size="10.3" text-anchor="middle" transform="rotate(-90 26.2 385.4)" textLength="77" lengthAdjust="spacingAndGlyphs" class="t">OD values at 630nm</text>
<text x="167.9" y="325.6" font-size="11.3" font-weight="bold" fill="#000" class="b">F</text>
<rect x="210.8" y="429.06" width="7.9" height="9.04" fill="#000"/>
<rect x="222.35" y="429.06" width="7.9" height="9.04" fill="#333"/>
<rect x="233.9" y="429.06" width="7.9" height="9.04" fill="#666"/>
<rect x="245.45" y="429.06" width="7.9" height="9.04" fill="#aaa"/>
<rect x="264.7" y="426.17" width="7.9" height="11.94" fill="#000"/>
<rect x="276.25" y="426.17" width="7.9" height="11.94" fill="#333"/>
<rect x="287.8" y="424.12" width="7.9" height="13.98" fill="#666"/>
<rect x="300.15" y="357.28" width="7.9" height="80.82" fill="#aaa"/>
<line x1="304.1" y1="355.24" x2="304.1" y2="357.28" stroke="#000" stroke-width="0.9"/>
<line x1="302.5" y1="355.24" x2="305.7" y2="355.24" stroke="#000" stroke-width="0.9"/>
<line x1="208.3" y1="332.4" x2="208.3" y2="438.6" stroke="#000" stroke-width="1.1"/>
<line x1="205.5" y1="335.8" x2="208.3" y2="335.8" stroke="#000" stroke-width="1.1"/>
<text x="202.4" y="338.72" font-size="8.1" text-anchor="end">0.6</text>
<line x1="205.5" y1="369.9" x2="208.3" y2="369.9" stroke="#000" stroke-width="1.1"/>
<text x="202.4" y="372.82" font-size="8.1" text-anchor="end">0.4</text>
<line x1="205.5" y1="404" x2="208.3" y2="404" stroke="#000" stroke-width="1.1"/>
<text x="202.4" y="406.92" font-size="8.1" text-anchor="end">0.2</text>
<line x1="205.5" y1="438.1" x2="208.3" y2="438.1" stroke="#000" stroke-width="1.1"/>
<text x="202.4" y="441.02" font-size="8.1" text-anchor="end">0</text>
<line x1="207.8" y1="438.1" x2="312.4" y2="438.1" stroke="#000" stroke-width="1.1"/>
<text x="304.7" y="353.4" font-size="7.8" text-anchor="middle" font-weight="bold" letter-spacing="1" fill="#000">***</text>
<rect x="212.6" y="349.7" width="13.2" height="5.4" fill="#000"/>
<text x="228.8" y="355.1" font-size="7.5">No treatment</text>
<rect x="212.6" y="360.95" width="13.2" height="5.4" fill="#333"/>
<text x="228.8" y="366.35" font-size="7.5">CEP-PE</text>
<rect x="212.6" y="372.2" width="13.2" height="5.4" fill="#666"/>
<text x="228.8" y="377.6" font-size="7.5">Control DNA</text>
<rect x="212.6" y="383.45" width="13.2" height="5.4" fill="#aaa"/>
<text x="228.8" y="388.85" font-size="7.5">CpG DNA</text>
<text x="236" y="445.8" font-size="8" text-anchor="end" transform="rotate(-45 236 445.8)">Null</text>
<text x="291.4" y="445.2" font-size="8" text-anchor="end" transform="rotate(-45 291.4 445.2)">TLR9</text>
<text x="186.2" y="385.4" font-size="10.3" text-anchor="middle" transform="rotate(-90 186.2 385.4)" textLength="77" lengthAdjust="spacingAndGlyphs" class="t">OD values at 630nm</text>
<text x="326.7" y="325.7" font-size="11.3" font-weight="bold" fill="#000" class="b">G</text>
<rect x="369.6" y="430.97" width="5.4" height="7.03" fill="#000"/>
<rect x="377.25" y="430.97" width="5.4" height="7.03" fill="#333"/>
<rect x="384.9" y="430.97" width="5.4" height="7.03" fill="#666"/>
<rect x="392.55" y="432" width="5.4" height="6" fill="#999"/>
<rect x="405.8" y="337.72" width="5.4" height="100.28" fill="#000" rx="1.6"/>
<rect x="413.45" y="408.11" width="5.4" height="29.89" fill="#333"/>
<rect x="421.1" y="413.22" width="5.4" height="24.78" fill="#666"/>
<rect x="428.75" y="427.01" width="5.4" height="10.99" fill="#999"/>
<rect x="441.2" y="346.28" width="5.4" height="91.72" fill="#000" rx="1.6"/>
<rect x="448.85" y="408.11" width="5.4" height="29.89" fill="#333"/>
<rect x="456.5" y="418.45" width="5.4" height="19.55" fill="#666"/>
<rect x="464.15" y="430.08" width="5.4" height="7.92" fill="#999"/>
<line x1="369.7" y1="332" x2="369.7" y2="438.5" stroke="#000" stroke-width="1.1"/>
<line x1="366.9" y1="335.8" x2="369.7" y2="335.8" stroke="#000" stroke-width="1.1"/>
<text x="363.3" y="338.72" font-size="8.1" text-anchor="end">0.8</text>
<line x1="366.9" y1="386.9" x2="369.7" y2="386.9" stroke="#000" stroke-width="1.1"/>
<text x="363.3" y="389.82" font-size="8.1" text-anchor="end">0.4</text>
<line x1="366.9" y1="438" x2="369.7" y2="438" stroke="#000" stroke-width="1.1"/>
<text x="363.3" y="440.92" font-size="8.1" text-anchor="end">0</text>
<line x1="369.2" y1="438" x2="472.8" y2="438" stroke="#000" stroke-width="1.1"/>
<text x="418.25" y="407.7" font-size="7.8" text-anchor="middle" font-weight="bold" letter-spacing="1.1" fill="#000">***</text>
<text x="425.95" y="413.1" font-size="7.8" text-anchor="middle" font-weight="bold" letter-spacing="1.1" fill="#000">***</text>
<text x="434.05" y="427" font-size="7.8" text-anchor="middle" font-weight="bold" letter-spacing="1.1" fill="#000">***</text>
<text x="454.05" y="408.5" font-size="7.8" text-anchor="middle" font-weight="bold" letter-spacing="1.1" fill="#000">***</text>
<text x="462.05" y="418.5" font-size="7.8" text-anchor="middle" font-weight="bold" letter-spacing="1.1" fill="#000">***</text>
<text x="470.25" y="429.3" font-size="7.8" text-anchor="middle" font-weight="bold" letter-spacing="1.1" fill="#000">***</text>
<rect x="451.9" y="344.2" width="13.4" height="5.4" fill="#000"/>
<text x="468.5" y="349.6" font-size="7.5">IgG</text>
<rect x="451.9" y="355.4" width="13.4" height="5.4" fill="#333"/>
<text x="468.5" y="360.8" font-size="7.5">TLR1</text>
<rect x="451.9" y="366.6" width="13.4" height="5.4" fill="#666"/>
<text x="468.5" y="372" font-size="7.5">TLR2</text>
<rect x="451.9" y="377.8" width="13.4" height="5.4" fill="#999"/>
<text x="468.5" y="383.2" font-size="7.5">TLR1 + TLR2</text>
<text x="387.4" y="445.8" font-size="8" text-anchor="end" transform="rotate(-45 387.4 445.8)">NT</text>
<text x="424.8" y="446.4" font-size="8" text-anchor="end" transform="rotate(-45 424.8 446.4)">CHP-PE</text>
<text x="460.4" y="444.8" font-size="8" text-anchor="end" transform="rotate(-45 460.4 444.8)">Pam3CSK4</text>
<text x="346.8" y="385.4" font-size="10.3" text-anchor="middle" transform="rotate(-90 346.8 385.4)" textLength="77" lengthAdjust="spacingAndGlyphs" class="t">OD values at 630nm</text>
<rect x="0.5" y="0.5" width="519" height="480" fill="none" stroke="#1a1a1a" stroke-width="1.2"/>
</svg>
</body>
</html>
